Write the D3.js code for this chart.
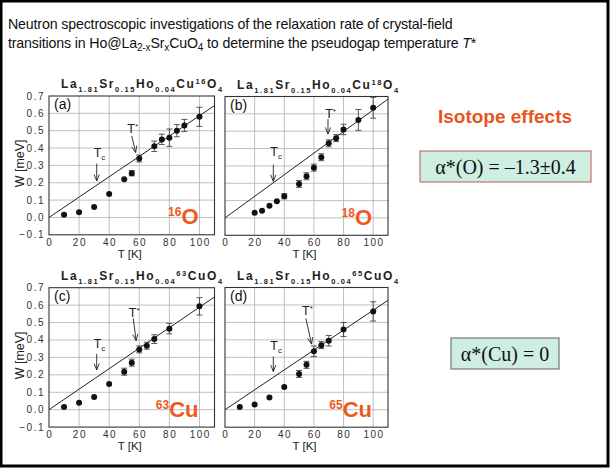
<!DOCTYPE html>
<html>
<head>
<meta charset="utf-8">
<script src="https://cdn.jsdelivr.net/npm/d3@7"></script>
<style>
  body { margin: 0; background: #fff; }
  svg { display: block; font-family: "Liberation Sans", Arial, sans-serif; }
  .grid line { stroke: #b0b0b0; stroke-width: 0.8; }
  .tick-label { font-size: 10px; fill: #333; letter-spacing: 1.5px; }
  .point { fill: #111; }
  .err { stroke: #444; stroke-width: 0.9; }
  .fit { stroke: #222; stroke-width: 1; fill: none; }
  .arrow { stroke: #222; stroke-width: 0.9; fill: none; }
  .iso { fill: #f0591e; font-weight: bold; }
</style>
</head>
<body>
<svg id="chart" width="610" height="468"></svg>
<script>
// ---- data ----
const panelIds = ['a', 'b', 'c', 'd'];
const isotopes = [['16', 'O'], ['18', 'O'], ['63', 'Cu'], ['65', 'Cu']];

const tempA = [10, 20, 30, 40, 50, 55, 60, 70, 75, 80, 85, 90, 100];
const widthA = [0.015, 0.03, 0.06, 0.135, 0.22, 0.255, 0.34, 0.41, 0.45, 0.46, 0.50, 0.53, 0.58];
const errA = [0, 0, 0, 0, 0, 0.015, 0.02, 0.03, 0.03, 0.05, 0.035, 0.035, 0.055];

const tempB = [20, 25, 30, 35, 40, 50, 55, 60, 65, 70, 75, 80, 90, 100];
const widthB = [0.03, 0.042, 0.07, 0.096, 0.125, 0.196, 0.24, 0.29, 0.35, 0.43, 0.46, 0.51, 0.565, 0.635];
const errB = [0, 0, 0, 0, 0.015, 0.02, 0.02, 0.02, 0.02, 0.02, 0.02, 0.03, 0.06, 0.06];

const tempC = [10, 20, 30, 40, 50, 55, 60, 65, 70, 80, 100];
const widthC = [0.015, 0.04, 0.073, 0.147, 0.218, 0.27, 0.346, 0.367, 0.405, 0.465, 0.593];
const errC = [0, 0, 0, 0, 0.02, 0.02, 0.02, 0.02, 0.025, 0.03, 0.05];

const tempD = [10, 20, 30, 40, 50, 55, 60, 65, 70, 80, 100];
const widthD = [0.015, 0.03, 0.07, 0.13, 0.205, 0.257, 0.335, 0.37, 0.395, 0.46, 0.563];
const errD = [0, 0, 0, 0, 0.02, 0.02, 0.03, 0.02, 0.03, 0.04, 0.055];

// straight line through origin: W at T = 110 K
const fitEnd = [0.645, 0.685, 0.647, 0.627];

// Tc arrows: [T, label W, arrow start W, arrow tip W]
const tcMarks = [[31.7, 0.38, 0.31, 0.21], [32.6, 0.384, 0.307, 0.211], [31.7, 0.38, 0.32, 0.228], [32.6, 0.37, 0.304, 0.219]];
// T* arrows: [label T, label W, start T, start W, tip T, tip W]
const tstarMarks = [
  [54, 0.515, 55, 0.47, 57.6, 0.374],
  [69.6, 0.605, 69.5, 0.57, 69.5, 0.484],
  [55, 0.56, 56, 0.524, 57.9, 0.396],
  [54, 0.57, 54.6, 0.523, 58.4, 0.376]
];

const xTicks = [0, 20, 40, 60, 80, 100];
const yTicks = [-0.1, 0.0, 0.1, 0.2, 0.3, 0.4, 0.5, 0.6, 0.7];

const series = [
  {temp: tempA, width: widthA, err: errA},
  {temp: tempB, width: widthB, err: errB},
  {temp: tempC, width: widthC, err: errC},
  {temp: tempD, width: widthD, err: errD}
];

// ---- layout ----
const boxes = [
  {left: 49, right: 214.5, top: 96, bottom: 234.8},
  {left: 225, right: 388, top: 96.5, bottom: 235.3},
  {left: 49, right: 214.5, top: 287.7, bottom: 427.1},
  {left: 225, right: 388, top: 287.5, bottom: 427.2}
];

const svg = d3.select('#chart');

// slide frame
svg.append('rect').attr('x', 1).attr('y', 1).attr('width', 607).attr('height', 465)
  .attr('fill', '#fff').attr('stroke', '#000').attr('stroke-width', 3);

// heading
const head = svg.append('g').attr('font-size', 14.2).attr('fill', '#111').attr('letter-spacing', -0.15);
head.append('text').attr('x', 8).attr('y', 29)
  .text('Neutron spectroscopic investigations of the relaxation rate of crystal-field');
const h2 = head.append('text').attr('x', 8).attr('y', 48);
h2.append('tspan').text('transitions in Ho@La');
h2.append('tspan').attr('font-size', 10).attr('dy', 3).text('2-x');
h2.append('tspan').attr('dy', -3).text('Sr');
h2.append('tspan').attr('font-size', 10).attr('dy', 3).text('x');
h2.append('tspan').attr('dy', -3).text('CuO');
h2.append('tspan').attr('font-size', 10).attr('dy', 3).text('4');
h2.append('tspan').attr('dy', -3).text(' to determine the pseudogap temperature  ');
h2.append('tspan').attr('font-style', 'italic').text('T');
h2.append('tspan').text('*');

function drawTitle(g, box, i) {
  const t = g.append('text').attr('x', box.left + 12).attr('y', box.top - 8)
    .attr('font-size', 12).attr('font-weight', 'bold').attr('fill', '#222')
    .attr('letter-spacing', 1.6);
  const sub = (s) => t.append('tspan').attr('font-size', 7.5).attr('dy', 4).text(s);
  const up = () => t.append('tspan').attr('dy', -4);
  t.append('tspan').text('La');
  sub('1.81'); up().text('Sr');
  sub('0.15'); up().text('Ho');
  sub('0.04');
  if (i < 2) {
    up().text('Cu');
    t.append('tspan').attr('font-size', 7.5).attr('dy', -4).text(isotopes[i][0]);
    t.append('tspan').attr('dy', 4).text('O');
  } else {
    t.append('tspan').attr('font-size', 7.5).attr('dy', -8).text(isotopes[i][0]);
    t.append('tspan').attr('dy', 4).text('CuO');
  }
  sub('4');
}

function arrowHead(g, x1, y1, x2, y2) {
  const ang = Math.atan2(y2 - y1, x2 - x1);
  const len = 7, spread = 0.38;
  const p = (a) => [x2 - len * Math.cos(a), y2 - len * Math.sin(a)];
  const [ax, ay] = p(ang - spread), [bx, by] = p(ang + spread);
  g.append('path').attr('class', 'arrow')
    .attr('d', `M${ax},${ay} L${x2},${y2} L${bx},${by}`);
}

function drawPanel(i) {
  const box = boxes[i];
  const d = series[i];
  const g = svg.append('g');

  const x = d3.scaleLinear().domain([0, 110]).range([box.left, box.right]);
  const y = d3.scaleLinear().domain([-0.1, 0.7]).range([box.bottom, box.top]);

  const grid = g.append('g').attr('class', 'grid');
  grid.selectAll('line.v').data(xTicks.slice(1)).enter().append('line')
    .attr('x1', t => x(t)).attr('x2', t => x(t))
    .attr('y1', box.top).attr('y2', box.bottom);
  grid.selectAll('line.h').data(yTicks.slice(1, -1)).enter().append('line')
    .attr('x1', box.left).attr('x2', box.right)
    .attr('y1', v => y(v)).attr('y2', v => y(v));

  g.append('rect').attr('x', box.left).attr('y', box.top)
    .attr('width', box.right - box.left).attr('height', box.bottom - box.top)
    .attr('fill', 'none').attr('stroke', '#333').attr('stroke-width', 1.1);

  // tick labels
  g.selectAll('text.xt').data(xTicks).enter().append('text')
    .attr('class', 'tick-label').attr('text-anchor', 'middle')
    .attr('x', t => x(t) + 0.8).attr('y', box.bottom + 11)
    .text(t => t);
  if (i % 2 === 0) {
    g.selectAll('text.yt').data(yTicks).enter().append('text')
      .attr('class', 'tick-label').attr('text-anchor', 'end')
      .attr('letter-spacing', 0.6)
      .attr('x', box.left - 4).attr('y', v => y(v) + 3.5)
      .text(v => d3.format('.1f')(v));
    g.append('text').attr('transform', `translate(${box.left - 25},${(box.top + box.bottom) / 2 - 2}) rotate(-90)`)
      .attr('text-anchor', 'middle').attr('font-size', 12.5).attr('fill', '#222')
      .text('W [meV]');
  }
  g.append('text').attr('x', (box.left + box.right) / 2 - 2).attr('y', box.bottom + 23)
    .attr('text-anchor', 'middle').attr('font-size', 11.5).attr('fill', '#222')
    .text('T [K]');

  // panel letter
  g.append('text').attr('x', box.left + 5).attr('y', box.top + 13)
    .attr('font-size', 14).attr('fill', '#111').text(`(${panelIds[i]})`);

  drawTitle(g, box, i);

  // fit line
  g.append('line').attr('class', 'fit')
    .attr('x1', x(0)).attr('y1', y(0)).attr('x2', x(110)).attr('y2', y(fitEnd[i]));

  // error bars
  const pts = d.temp.map((t, k) => ({t: t, w: d.width[k], e: d.err[k]})).filter(p => p.e > 0);
  const eb = g.append('g').attr('class', 'err');
  eb.selectAll('line.bar').data(pts).enter().append('line')
    .attr('x1', p => x(p.t)).attr('x2', p => x(p.t))
    .attr('y1', p => y(p.w - p.e)).attr('y2', p => y(p.w + p.e));
  eb.selectAll('line.cap1').data(pts).enter().append('line')
    .attr('x1', p => x(p.t) - 3).attr('x2', p => x(p.t) + 3)
    .attr('y1', p => y(p.w + p.e)).attr('y2', p => y(p.w + p.e));
  eb.selectAll('line.cap2').data(pts).enter().append('line')
    .attr('x1', p => x(p.t) - 3).attr('x2', p => x(p.t) + 3)
    .attr('y1', p => y(p.w - p.e)).attr('y2', p => y(p.w - p.e));

  g.selectAll('circle.point').data(d.temp).enter().append('circle')
    .attr('class', 'point')
    .attr('cx', t => x(t)).attr('cy', (t, k) => y(d.width[k])).attr('r', 3);

  // Tc
  const tc = tcMarks[i];
  const tcText = g.append('text').attr('x', x(tc[0]) - 3).attr('y', y(tc[1]) + 5)
    .attr('font-size', 12.5).attr('fill', '#222');
  tcText.append('tspan').text('T');
  tcText.append('tspan').attr('font-size', 8).attr('dy', 3).text('c');
  g.append('line').attr('class', 'arrow')
    .attr('x1', x(tc[0])).attr('x2', x(tc[0])).attr('y1', y(tc[2])).attr('y2', y(tc[3]));
  arrowHead(g, x(tc[0]), y(tc[2]), x(tc[0]), y(tc[3]));

  // T*
  const ts = tstarMarks[i];
  const tsText = g.append('text').attr('x', x(ts[0]) - 3).attr('y', y(ts[1]) + 5)
    .attr('font-size', 12.5).attr('fill', '#222');
  tsText.append('tspan').text('T');
  tsText.append('tspan').attr('font-size', 8).attr('dy', -4).text('*');
  g.append('line').attr('class', 'arrow')
    .attr('x1', x(ts[2])).attr('y1', y(ts[3])).attr('x2', x(ts[4])).attr('y2', y(ts[5]));
  arrowHead(g, x(ts[2]), y(ts[3]), x(ts[4]), y(ts[5]));

  // isotope label
  const iso = g.append('text').attr('class', 'iso').attr('text-anchor', 'end')
    .attr('x', box.right - 16).attr('y', y(-0.04));
  iso.append('tspan').attr('font-size', 12).attr('dy', -8).text(isotopes[i][0]);
  iso.append('tspan').attr('font-size', 22).attr('dy', 8).text(isotopes[i][1]);
}

panelIds.forEach((id, i) => drawPanel(i));

// right side
svg.append('text').attr('x', 505).attr('y', 123).attr('text-anchor', 'middle')
  .attr('font-size', 19).attr('font-weight', 'bold').attr('fill', '#e8541f')
  .text('Isotope effects');

function effectBox(x0, y0, w, h, stroke, label) {
  svg.append('rect').attr('x', x0).attr('y', y0).attr('width', w).attr('height', h)
    .attr('fill', '#cdeee0').attr('stroke', stroke).attr('stroke-width', 1.2);
  svg.append('text').attr('x', x0 + w / 2).attr('y', y0 + h / 2 + 7)
    .attr('text-anchor', 'middle').attr('font-family', '"Liberation Serif", "Times New Roman", serif')
    .attr('font-size', 20).attr('fill', '#111').text(label);
}
effectBox(420, 151, 171, 31, '#c87070', 'α*(O) = –1.3±0.4');
effectBox(451, 338, 108, 31, '#777', 'α*(Cu) = 0');
</script>
</body>
</html>
